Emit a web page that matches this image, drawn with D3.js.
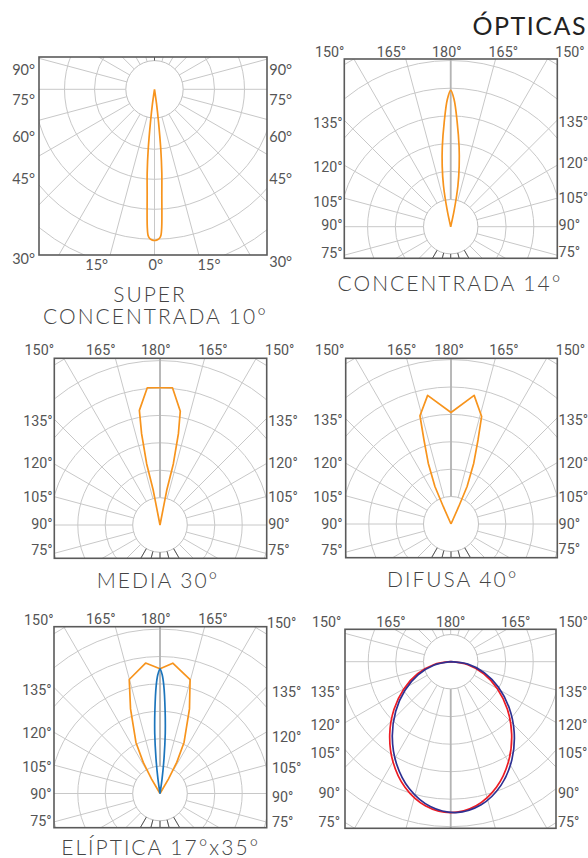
<!DOCTYPE html>
<html>
<head>
<meta charset="utf-8">
<script src="https://cdn.jsdelivr.net/npm/d3@7"></script>
<style>
  body { margin: 0; background: #fff; }
  svg { display: block; }
  .tick { font-family: 'Liberation Sans Narrow', 'Arial Narrow', 'Roboto', sans-serif; font-size: 14.3px; fill: #555; }
  .tick1 { font-family: Lato, 'Open Sans', sans-serif; font-size: 14.5px; fill: #555; }
  .title { font-family: Lato, 'Open Sans', sans-serif; font-weight: 300; font-size: 21px; fill: #444; letter-spacing: 2px; }
  .main-title { font-family: Lato, 'Open Sans', sans-serif; font-size: 25px; fill: #222; letter-spacing: 1.5px; }
</style>
</head>
<body>
<div id="chart"></div>
<script>
// Tick labels
const topTicks = ['150°', '165°', '180°', '165°', '150°'];
const sideTicks = ['135°', '120°', '105°', '90°', '75°'];
const sideTicksSuper = ['90°', '75°', '60°', '45°', '30°'];
const bottomTicksSuper = ['15°', '0°', '15°'];

// Photometric curves: angle from beam axis (deg), intensity (grid rings)
const superAngles = [-9, -8, -7, -6, -5, -4, -3, -2.5, -2, -1, 0, 1, 2, 2.5, 3, 4, 5, 6, 7, 8, 9];
const superValues = [0, 0.5, 1.1, 2.0, 2.8, 3.5, 4.6, 4.88, 4.96, 5.02, 5.04, 5.02, 4.96, 4.88, 4.6, 3.5, 2.8, 2.0, 1.1, 0.5, 0];

const concAngles = [-13, -12, -10, -8, -6, -3.5, -1.5, 0, 1.5, 3.5, 6, 8, 10, 12, 13];
const concValues = [0, 0.6, 1.5, 2.2, 2.9, 3.8, 4.6, 4.92, 4.6, 3.8, 2.9, 2.2, 1.5, 0.6, 0];

const mediaAngles = [0, -11, -12.3, -11.4, -10.2, -5.3, 0, 5.2, 10.1, 11.4, 12.3, 11, 0];
const mediaValues = [0, 1.28, 2.28, 3.40, 4.25, 5.03, 5.01, 5.03, 4.22, 3.40, 2.28, 1.28, 0];

const difusaAngles = [0, -23.9, -23.2, -20.5, -17.8, -16.0, -10.3, 0, 10.2, 15.9, 17.8, 20.5, 23.2, 23.9, 0];
const difusaValues = [0, 0.69, 1.49, 2.37, 3.23, 4.11, 4.77, 4.07, 4.77, 4.08, 3.23, 2.37, 1.49, 0.69, 0];

const elipWideAngles = [0, -30.2, -28.3, -25.2, -19.2, -15.1, -6.3, 0, 5.6, 14.8, 19.2, 25.2, 28.3, 30.2, 0];
const elipWideValues = [0, 0.61, 1.29, 2.06, 3.27, 4.31, 4.79, 4.55, 4.78, 4.30, 3.27, 2.06, 1.29, 0.61, 0];
const elipNarrowAngles = [-9, -8, -6.5, -5, -3.5, -2, -1, 0, 1, 2, 3.5, 5, 6.5, 8, 9];
const elipNarrowValues = [0, 0.55, 1.3, 2.2, 3.05, 3.95, 4.35, 4.55, 4.35, 3.95, 3.05, 2.2, 1.3, 0.55, 0];

const redAngles = [-90, -80, -70, -60, -50, -40, -30, -20, -10, 0, 10, 20, 30, 40, 50, 60, 70, 80, 90];
const redValues = [0, 0.63, 1.28, 1.96, 2.69, 3.45, 4.20, 4.86, 5.32, 5.49, 5.32, 4.86, 4.20, 3.45, 2.69, 1.96, 1.28, 0.63, 0];
const navyAngles = [-88, -78, -68, -58, -48, -38, -28, -18, -8, 2, 12, 22, 32, 42, 52, 62, 72, 82, 92];
const navyValues = [0, 0.63, 1.28, 1.96, 2.69, 3.45, 4.20, 4.86, 5.32, 5.49, 5.32, 4.86, 4.20, 3.45, 2.69, 1.96, 1.28, 0.63, 0];

const ORANGE = '#f7941d';

const zip = (a, v) => a.map((d, i) => ({ angle: d, value: v[i] }));

const panels = [
  {
    box: [39, 57, 267, 255], cx: 154.5, cy: 89.3, ring: 30, hub: 28.7, dir: 1,
    axisLine: false, darkTicks: [0],
    curves: [{ data: zip(superAngles, superValues), color: ORANGE, curve: d3.curveCatmullRom }],
    superLabels: true,
    title: [['SUPER', 150, 302], ['CONCENTRADA 10°', 155.5, 324]]
  },
  {
    box: [344.3, 59, 557.3, 258.3], cx: 450.7, cy: 226.7, ring: 27.7, hub: 27.2, dir: -1,
    axisLine: true, darkTicks: [0, 15, -15, 30, -30],
    curves: [{ data: zip(concAngles, concValues), color: ORANGE, curve: d3.curveCatmullRom }],
    topX: [-121, -59.2, -3.9, 52.6, 119.3], topY: [56.5, 56.5, 56.5, 56.5, 56.5],
    leftX: 342.7, rightX: 558.6,
    leftY: [128, 172, 207, 230, 258], rightY: [127, 168, 203, 230, 257],
    title: [['CONCENTRADA 14°', 450, 291]]
  },
  {
    box: [54.3, 358.3, 266.7, 558.3], cx: 160, cy: 525, ring: 27.4, hub: 27.3, dir: -1,
    axisLine: true, darkTicks: [0, 15, -15, 30, -30],
    curves: [{ data: zip(mediaAngles, mediaValues), color: ORANGE, curve: d3.curveLinear }],
    topX: [-120.7, -59.2, -4.2, 53, 119.7], topY: [355, 355, 355, 355, 355],
    leftX: 52.7, rightX: 268.3,
    leftY: [426, 468, 501.7, 529, 555], rightY: [426, 468, 501.7, 529, 555],
    title: [['MEDIA 30°', 158, 588]]
  },
  {
    box: [345.7, 358.3, 557.3, 557.7], cx: 451, cy: 524, ring: 27.4, hub: 27.5, dir: -1,
    axisLine: true, darkTicks: [0, 15, -15, 30, -30],
    curves: [{ data: zip(difusaAngles, difusaValues), color: ORANGE, curve: d3.curveLinear }],
    topX: [-121.3, -49.3, -1.8, 53, 119.5], topY: [355, 355, 355, 355, 355],
    leftX: 342.7, rightX: 558.6,
    leftY: [425, 468.3, 501.7, 529.3, 555], rightY: [425, 468.3, 501.7, 529.3, 554],
    title: [['DIFUSA 40°', 452.7, 587]]
  },
  {
    box: [54, 626.7, 266.7, 827.7], cx: 160, cy: 793.5, ring: 27.4, hub: 27.3, dir: -1,
    axisLine: true, darkTicks: [0, 15, -15, 30, -30],
    curves: [
      { data: zip(elipWideAngles, elipWideValues), color: ORANGE, curve: d3.curveLinear },
      { data: zip(elipNarrowAngles, elipNarrowValues), color: '#1c75bc', curve: d3.curveCatmullRom }
    ],
    topX: [-121.2, -59.2, -4.2, 53, 121.7], topY: [625, 623.5, 623.5, 623.5, 628.3],
    leftX: 51.7, rightX: 272,
    leftY: [695, 738.3, 771.7, 799.3, 826], rightY: [696.7, 741.7, 773, 801.7, 826.7],
    title: [['ELÍPTICA 17°x35°', 160.8, 855]]
  },
  {
    box: [345, 629.3, 556, 828.3], cx: 450.7, cy: 661.7, ring: 27.5, hub: 27.2, dir: 1,
    axisLine: true, darkTicks: [],
    curves: [
      { data: zip(redAngles, redValues), color: '#ed1c24', curve: d3.curveCatmullRom },
      { data: zip(navyAngles, navyValues), color: '#2e3192', curve: d3.curveCatmullRom }
    ],
    topX: [-124, -59.7, 0, 65, 122.5], topY: [626.7, 626.7, 626.7, 626.7, 626.7],
    leftX: 340, rightX: 558,
    leftY: [696.7, 730, 758.3, 798.3, 826.7], rightY: [696.7, 730, 758.3, 798.3, 826.7],
    title: []
  }
];

const W = 588, H = 858;
const svg = d3.select('#chart').append('svg')
  .attr('width', W)
  .attr('height', H);

const rad = d => d * Math.PI / 180;

panels.forEach((p, i) => {
  const [x0, y0, x1, y1] = p.box;
  const r = d3.scaleLinear().domain([0, 1]).range([0, p.ring]);
  // beam direction: dir 1 points down, dir -1 points up
  const toAngle = a => p.dir === 1 ? Math.PI - rad(a) : rad(a);

  svg.append('clipPath')
    .attr('id', `clip${i}`)
    .append('rect')
    .attr('x', x0).attr('y', y0)
    .attr('width', x1 - x0).attr('height', y1 - y0);

  const g = svg.append('g').attr('clip-path', `url(#clip${i})`);
  const c = g.append('g').attr('transform', `translate(${p.cx},${p.cy})`);

  // Rings
  c.selectAll('circle.ring')
    .data(d3.range(2, 10))
    .join('circle')
    .attr('class', 'ring')
    .attr('r', d => r(d))
    .attr('fill', 'none')
    .attr('stroke', '#c8c8c8')
    .attr('stroke-width', 1);

  // Radial lines every 15 degrees
  c.selectAll('line.spoke')
    .data(d3.range(0, 360, 15))
    .join('line')
    .attr('class', 'spoke')
    .attr('x1', d => p.hub * Math.sin(rad(d)))
    .attr('y1', d => -p.hub * Math.cos(rad(d)))
    .attr('x2', d => 400 * Math.sin(rad(d)))
    .attr('y2', d => -400 * Math.cos(rad(d)))
    .attr('stroke', '#c8c8c8')
    .attr('stroke-width', 1);

  // Emphasised beam axis
  if (p.axisLine) {
    const s = p.dir === 1 ? 1 : -1;
    c.append('line')
      .attr('x1', 0).attr('y1', s * p.hub)
      .attr('x2', 0).attr('y2', s * 400)
      .attr('stroke', '#b4b4b4')
      .attr('stroke-width', 1.8);
  }

  // Hub
  c.append('circle')
    .attr('r', p.hub)
    .attr('fill', '#fff')
    .attr('stroke', '#c0c0c0')
    .attr('stroke-width', 1);

  // Dark short ticks on the back side of the hub
  c.selectAll('line.dark')
    .data(p.darkTicks)
    .join('line')
    .attr('class', 'dark')
    .attr('x1', d => p.hub * Math.sin(rad(d)))
    .attr('y1', d => -p.dir * p.hub * Math.cos(rad(d)))
    .attr('x2', d => 60 * Math.sin(rad(d)))
    .attr('y2', d => -p.dir * 60 * Math.cos(rad(d)))
    .attr('stroke', '#555')
    .attr('stroke-width', 1);

  // Curves
  p.curves.forEach(cv => {
    const line = d3.lineRadial()
      .angle(d => toAngle(d.angle))
      .radius(d => r(d.value))
      .curve(cv.curve);
    c.append('path')
      .datum(cv.data)
      .attr('d', line)
      .attr('fill', 'none')
      .attr('stroke', cv.color)
      .attr('stroke-width', 1.7)
      .attr('stroke-linejoin', 'round');
  });

  // Frame
  svg.append('rect')
    .attr('x', x0).attr('y', y0)
    .attr('width', x1 - x0).attr('height', y1 - y0)
    .attr('fill', 'none')
    .attr('stroke', '#5a5a5a')
    .attr('stroke-width', 1.6);

  // Tick labels
  if (p.superLabels) {
    svg.selectAll(null)
      .data(sideTicksSuper)
      .join('text')
      .attr('class', 'tick1')
      .attr('x', 35)
      .attr('y', (d, j) => [75, 105, 141.7, 184, 264][j])
      .attr('text-anchor', 'end')
      .text(d => d);
    svg.selectAll(null)
      .data(sideTicksSuper)
      .join('text')
      .attr('class', 'tick1')
      .attr('x', 269.3)
      .attr('y', (d, j) => [75, 105, 141.7, 184, 266.7][j])
      .text(d => d);
    svg.selectAll(null)
      .data(bottomTicksSuper)
      .join('text')
      .attr('class', 'tick1')
      .attr('x', (d, j) => [96.7, 155.8, 209][j])
      .attr('y', 270)
      .attr('text-anchor', 'middle')
      .text(d => d);
  } else {
    svg.selectAll(null)
      .data(topTicks)
      .join('text')
      .attr('class', 'tick')
      .attr('x', (d, j) => p.cx + p.topX[j])
      .attr('y', (d, j) => p.topY[j])
      .attr('text-anchor', 'middle')
      .text(d => d);
    svg.selectAll(null)
      .data(sideTicks)
      .join('text')
      .attr('class', 'tick')
      .attr('x', p.leftX)
      .attr('y', (d, j) => p.leftY[j])
      .attr('text-anchor', 'end')
      .text(d => d);
    svg.selectAll(null)
      .data(sideTicks)
      .join('text')
      .attr('class', 'tick')
      .attr('x', p.rightX)
      .attr('y', (d, j) => p.rightY[j])
      .text(d => d);
  }

  // Title
  p.title.forEach(([t, x, y]) => {
    svg.append('text')
      .attr('class', 'title')
      .attr('x', x)
      .attr('y', y)
      .attr('text-anchor', 'middle')
      .text(t);
  });
});

svg.append('text')
  .attr('class', 'main-title')
  .attr('x', 587)
  .attr('y', 35)
  .attr('text-anchor', 'end')
  .text('ÓPTICAS');
</script>
</body>
</html>
